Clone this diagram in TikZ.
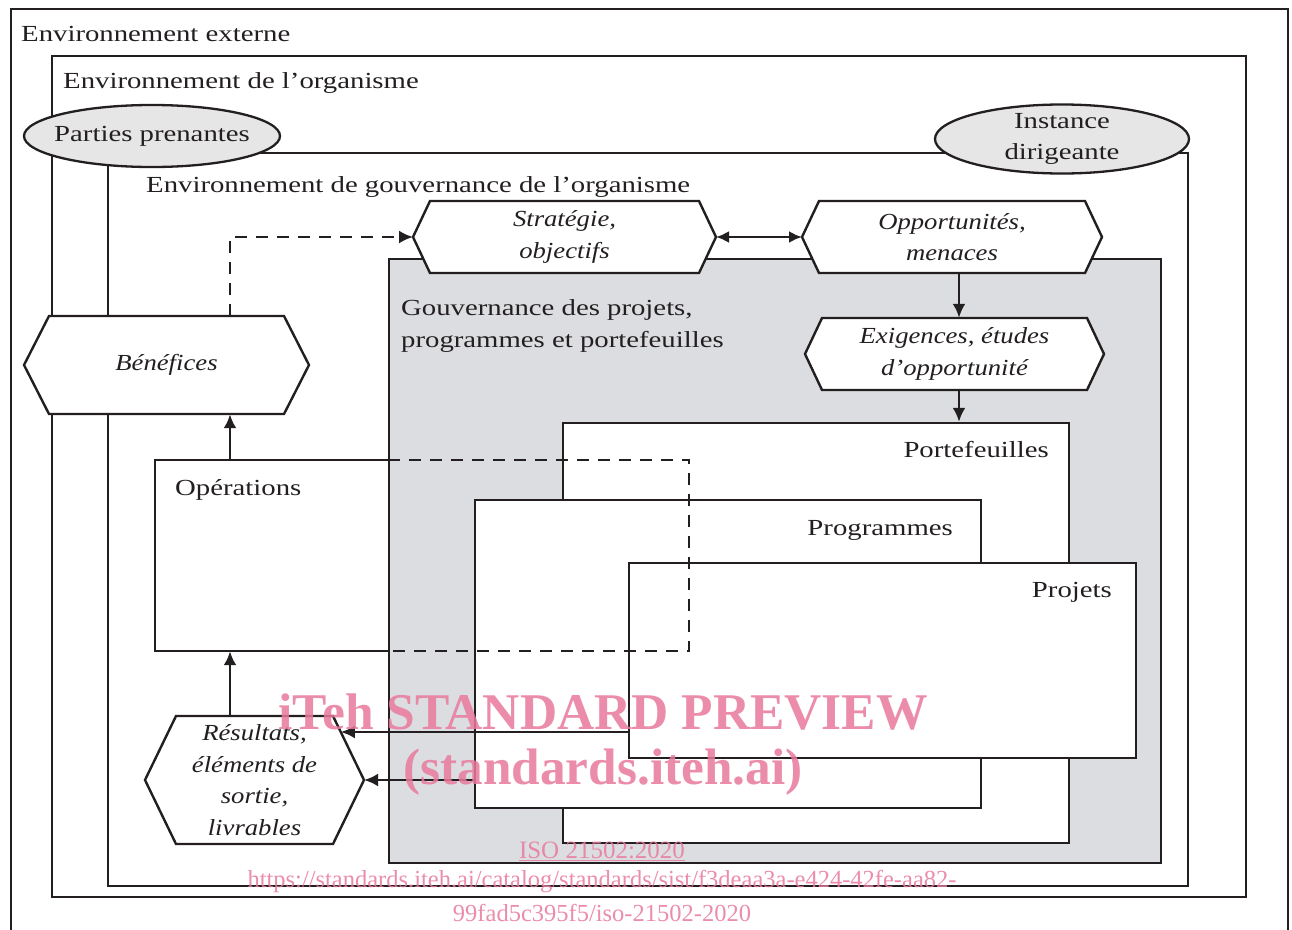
\documentclass[tikz,border=0pt]{standalone}
\usepackage{fontspec}
\setmainfont{Liberation Serif}[FakeStretch=1.25]
\newfontfamily\hexfont{Liberation Serif}[FakeStretch=1.16]
\newfontfamily\wmfont{Liberation Serif}
\usetikzlibrary{arrows.meta,shapes.geometric,calc}

\definecolor{ink}{RGB}{35,31,32}
\definecolor{govgray}{RGB}{220,221,224}
\definecolor{ovalgray}{RGB}{230,230,230}
\definecolor{wmpink}{RGB}{232,122,156}

\tikzset{
  boxline/.style={draw=ink, line width=2.3pt},
  framebox/.style={boxline, rectangle, inner sep=0pt},
  whitebox/.style={framebox, fill=white},
  hidden/.style={rectangle, inner sep=0pt, draw=none},
  dashline/.style={draw=ink, line width=2.3pt, dash pattern=on 12pt off 9pt},
  hexline/.style={draw=ink, line width=2.4pt, fill=white, line join=miter},
  hextext/.style={rectangle, inner sep=0pt, align=center, text=ink,
    font=\hexfont\itshape\fontsize{23}{31.5}\selectfont},
  oval/.style={ellipse, draw=ink, line width=2.3pt, fill=ovalgray, inner sep=0pt},
  lab/.style={text=ink, inner sep=0pt},
  tip/.style={-{Latex[length=14pt,width=13pt]}},
  arr/.style={draw=ink, line width=2.8pt, tip},
  dblarr/.style={draw=ink, line width=2.4pt, {Latex[length=13pt,width=12pt]}-{Latex[length=13pt,width=12pt]}},
  dasharr/.style={dashline, tip},
  wm/.style={text=wmpink, opacity=0.85, inner sep=0pt},
}

% hexagon: name, centre x, centre y, half width, half height, slant, text
\newcommand\hexnode[7]{%
  \draw[hexline] ({#2-#4},#3) -- ({#2-#4+#6},{#3-#5}) -- ({#2+#4-#6},{#3-#5})
    -- ({#2+#4},#3) -- ({#2+#4-#6},{#3+#5}) -- ({#2-#4+#6},{#3+#5}) -- cycle;
  \node[hextext, minimum width={2*(#4)}, minimum height={2*(#5)}] (#1) at (#2,#3) {#7};
  \coordinate (#1-w) at ({#2-#4},#3);
  \coordinate (#1-e) at ({#2+#4},#3);
  \coordinate (#1-ne) at ({#2+#4-#6},{#3-#5});
}

\begin{document}
\begin{tikzpicture}[x=1pt, y=-1pt, font=\fontsize{23}{31.5}\selectfont]
\useasboundingbox (0,0) rectangle (1292,929);
\clip (0,0) rectangle (1292,929);
\fill[white] (0,0) rectangle (1292,929);

% nested environments
\node[framebox, minimum width=1277, minimum height=940] (ext) at (649.5,479) {};
\node[framebox, minimum width=1194, minimum height=841] (org) at (649,476.5) {};
\node[framebox, minimum width=1080, minimum height=733] (gov) at (648,519.5) {};
\node[framebox, fill=govgray, minimum width=772, minimum height=604] (pgov) at (775,561) {};

\node[lab, anchor=base west] (t-ext) at (21,41) {Environnement externe};
\node[lab, anchor=base west] (t-org) at (63,88) {Environnement de l’organisme};
\node[lab, anchor=base west] (t-gov) at (146,192) {Environnement de gouvernance de l’organisme};
\node[lab, anchor=base west, align=left] (t-pgov) at (401,347)
  {Gouvernance des projets,\\programmes et portefeuilles};

% stakeholders and governing body
\node[oval, minimum width=256, minimum height=62] (pp) at (152,136) {};
\node[lab] (pp-t) at (pp) {Parties prenantes};
\node[oval, minimum width=254, minimum height=69] (inst) at (1062,139) {};
\node[lab, align=center] (inst-t) at (inst) {Instance\\dirigeante};

% operations (solid outside, dashed inside the governance area)
\node[hidden, minimum width=534, minimum height=191] (ops) at (422,555.5) {};
\draw[boxline] (ops.north -| pgov.west) -- (ops.north west) -- (ops.south west) -- (ops.south -| pgov.west);
\node[lab, anchor=base west] (ops-t) at (175,495) {Opérations};

% portfolios, programmes, projects
\node[whitebox, minimum width=506, minimum height=420] (port) at (816,633) {};
\node[lab, anchor=base east] (port-t) at (1049,457) {Portefeuilles};
\node[whitebox, minimum width=506, minimum height=308] (prog) at (728,654) {};
\node[lab, anchor=base east] (prog-t) at (953,535) {Programmes};
\node[whitebox, minimum width=507, minimum height=195] (proj) at (882.5,660.5) {};
\node[lab, anchor=base east] (proj-t) at (1112,597) {Projets};

\draw[dashline] (ops.north -| pgov.west) -- (ops.north east) -- (ops.south east) -- (ops.south -| pgov.west);

% hexagons
\hexnode{str}{564.5}{237}{151.5}{36}{17}{Stratégie,\\objectifs}
\hexnode{opp}{952}{237}{150}{36}{17}{Opportunités,\\menaces}
\hexnode{exi}{954.5}{354}{149.5}{36}{17}{Exigences, études\\d’opportunité}
\hexnode{ben}{166.5}{365}{142.5}{49}{25}{Bénéfices}
\hexnode{res}{254.5}{780}{109.5}{64}{31}{Résultats,\\éléments de\\sortie,\\livrables}

% connectors
\coordinate (colA) at (230,0);
\coordinate (colB) at (959,0);
\coordinate (hitA) at ($(res-ne)!0.25!(res-e)$);
\draw[dasharr] (ben.north -| colA) |- (str-w);
\draw[dblarr] (str-e) -- (opp-w);
\draw[arr] (opp.south -| colB) -- (exi.north -| colB);
\draw[arr] (exi.south -| colB) -- (port.north -| colB);
\draw[arr] (ops.north -| colA) -- (ben.south -| colA);
\draw[arr] (res.north -| colA) -- (ops.south -| colA);
\draw[arr] (proj.west |- hitA) -- (hitA);
\draw[arr] (prog.west |- res-e) -- (res-e);

% preview stamp
\node[wm, font=\wmfont\bfseries\fontsize{51.5}{51.5}\selectfont] (wm1) at (603,712) {iTeh STANDARD PREVIEW};
\node[wm, font=\wmfont\bfseries\fontsize{51.3}{51.3}\selectfont] (wm2) at (603,772) {(standards.iteh.ai)};
\node[wm, font=\wmfont\fontsize{25}{25}\selectfont] (wm3) at (602,851) {\underline{ISO 21502:2020}};
\node[wm, font=\wmfont\fontsize{24.5}{24.5}\selectfont] (wm4) at (602,882) {https://standards.iteh.ai/catalog/standards/sist/f3deaa3a-e424-42fe-aa82-};
\node[wm, font=\wmfont\fontsize{24.5}{24.5}\selectfont] (wm5) at (602,913) {99fad5c395f5/iso-21502-2020};
\end{tikzpicture}
\end{document}
